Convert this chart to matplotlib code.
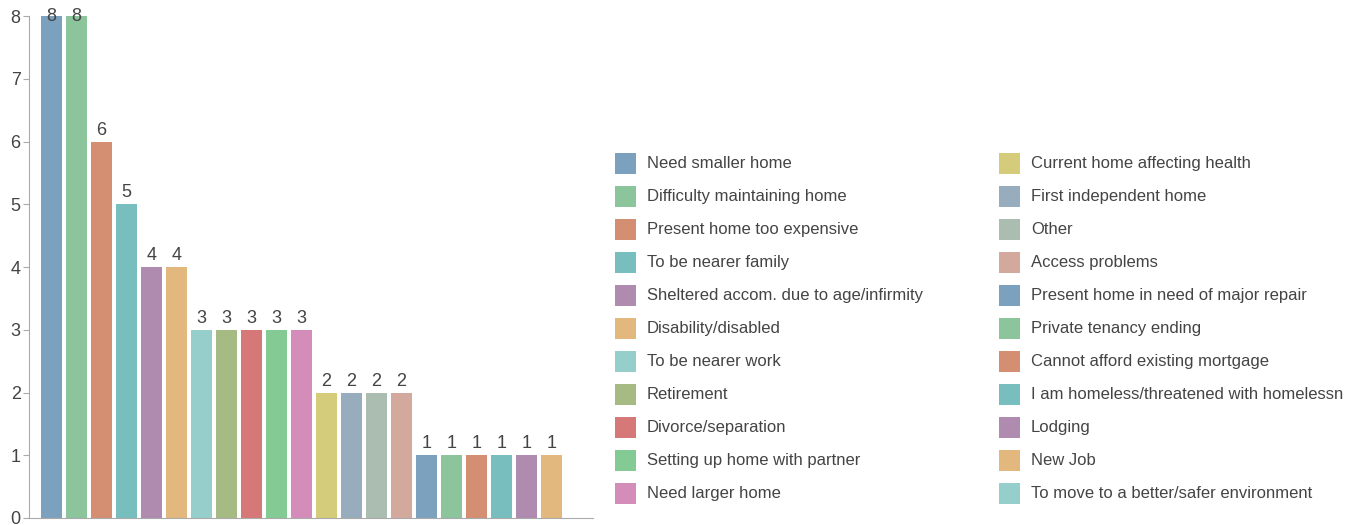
import matplotlib.pyplot as plt
from matplotlib.patches import Rectangle

plt.rcParams['font.family'] = ['Liberation Sans', 'DejaVu Sans']

# reasons for moving and how many people gave each one
reasons = [
    'Need smaller home', 'Difficulty maintaining home', 'Present home too expensive',
    'To be nearer family', 'Sheltered accom. due to age/infirmity', 'Disability/disabled',
    'To be nearer work', 'Retirement', 'Divorce/separation',
    'Setting up home with partner', 'Need larger home', 'Current home affecting health',
    'First independent home', 'Other', 'Access problems',
    'Present home in need of major repair', 'Private tenancy ending',
    'Cannot afford existing mortgage', 'I am homeless/threatened with homelessn',
    'Lodging', 'New Job', 'To move to a better/safer environment',
]
counts = [8, 8, 6, 5, 4, 4, 3, 3, 3, 3, 3, 2, 2, 2, 2, 1, 1, 1, 1, 1, 1, 0]

palette = ['#7ca1bf', '#8cc49c', '#d48f72', '#79bebf', '#b08bb0', '#e3b87e',
           '#95cecb', '#a6ba84', '#d67878', '#83ca95', '#d48db9', '#d4cc7a',
           '#97adbd', '#abbdb0', '#d2a99c']
colors = [palette[i % len(palette)] for i in range(len(reasons))]

W, H = 1355, 525
fig = plt.figure(figsize=(W / 100, H / 100), dpi=100)

# bar chart area
x0, x1, ytop, ybot = 29, 593, 16, 518
ax = fig.add_axes([x0 / W, (H - ybot) / H, (x1 - x0) / W, (ybot - ytop) / H])
xs = list(range(len(reasons)))
ax.bar(xs, counts, width=0.84, color=colors)
ax.set_xlim(-0.9, -0.9 + (x1 - x0) / 25)
ax.set_ylim(0, 8)
ax.set_yticks(range(0, 9))
ax.set_xticks([])
for side in ('top', 'right'):
    ax.spines[side].set_visible(False)
for side in ('left', 'bottom'):
    ax.spines[side].set_color('#aaaaaa')
ax.tick_params(axis='y', colors='#aaaaaa', labelcolor='#444444', labelsize=13,
               length=4, pad=2)

top = max(counts)
for x, v in zip(xs, counts):
    if v == 0:
        continue
    if v == top:
        ax.text(x, v, str(v), ha='center', va='center', fontsize=13, color='#444444')
    else:
        ax.annotate(str(v), (x, v), xytext=(0, 2), textcoords='offset points',
                    ha='center', va='bottom', fontsize=13, color='#444444')

# two-column legend drawn in pixel coordinates
lax = fig.add_axes([0, 0, 1, 1])
lax.set_xlim(0, W)
lax.set_ylim(H, 0)
lax.axis('off')
per_col = 11
for i, (name, c) in enumerate(zip(reasons, colors)):
    col, row = divmod(i, per_col)
    sx = 615 + col * 384
    sy = 153 + row * 33
    lax.add_patch(Rectangle((sx, sy), 21, 21, facecolor=c, edgecolor='none'))
    lax.text(sx + 32, sy + 10.5, name, ha='left', va='center', fontsize=12,
             color='#444444')

fig.savefig('out.png', dpi=100)
